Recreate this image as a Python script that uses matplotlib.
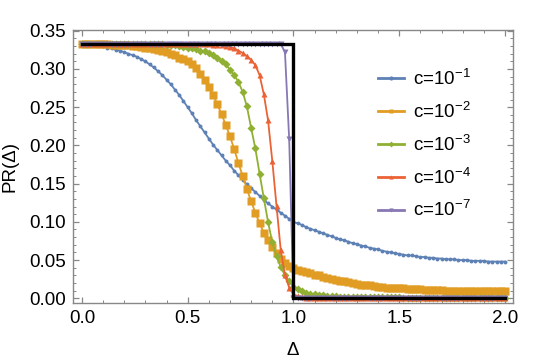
import numpy as np
import matplotlib
matplotlib.use("Agg")
import matplotlib.pyplot as plt
from matplotlib.ticker import MultipleLocator, FormatStrFormatter

plt.rcParams['font.family'] = ['Liberation Sans', 'DejaVu Sans']
plt.rcParams['mathtext.fontset'] = 'custom'
plt.rcParams['mathtext.rm'] = 'Liberation Sans'
plt.rcParams['mathtext.it'] = 'Liberation Sans:italic'

delta = np.linspace(0.0, 2.0, 101)

pr_c1 = [
    .333, .333, .333, .332, .331, .330, .328, .327, .325, .324,
    .322, .320, .318, .316, .313, .310, .306, .302, .297, .292,
    .286, .280, .273, .266, .258, .250, .242, .233, .225, .217,
    .209, .201, .194, .187, .180, .174, .167, .161, .155, .149,
    .144, .139, .134, .129, .124, .120, .116, .112, .108, .104,
    .100,
    .098, .096, .093, .091, .089, .087, .085, .083, .081, .079,
    .077, .076, .074, .072, .071, .069, .068, .066, .065, .064,
    .062, .061, .060, .059, .058, .057, .056, .056, .055, .054,
    .054, .053, .053, .052, .052, .051, .051, .051, .050, .050,
    .050, .049, .049, .049, .049, .048, .048, .048, .048, .048,
]

pr_c2 = [
    .333, .333, .333, .333, .333, .333, .333, .332, .332, .332,
    .331, .331, .330, .330, .329, .328, .327, .326, .325, .324,
    .322, .320, .318, .315, .313, .310, .307, .301, .293, .285,
    .276, .266, .254, .241, .227, .212, .195, .177, .160, .143,
    .127, .112, .098, .086, .076, .067, .059, .052, .046, .042,
    .039,
    .037, .036, .034, .033, .031, .030, .028, .027, .025, .024,
    .023, .022, .021, .020, .019, .018, .017, .017, .016, .015,
    .015, .014, .014, .013, .013, .013, .012, .012, .012, .012,
    .011, .011, .011, .011, .011, .010, .010, .010, .010, .010,
    .010, .010, .009, .009, .009, .009, .009, .009, .009, .009,
]

pr_c3 = [
    .333, .333, .333, .333, .333, .333, .333, .333, .333, .333,
    .333, .333, .333, .333, .333, .333, .333, .333, .333, .333,
    .332, .332, .331, .330, .329, .328, .327, .326, .324, .323,
    .321, .318, .315, .311, .306, .299, .292, .283, .270, .251,
    .223, .196, .163, .131, .100, .073, .055, .041, .030, .022,
    .015,
    .012, .009, .007, .006, .005, .004, .004, .003, .003, .003,
    .002, .002, .002, .002, .002, .002, .002, .002, .002, .002,
    .002, .002, .002, .002, .002, .001, .001, .001, .001, .001,
    .001, .001, .001, .001, .001, .001, .001, .001, .001, .001,
    .001, .001, .001, .001, .001, .001, .001, .001, .001, .001,
]

pr_c4 = [
    .333, .333, .333, .333, .333, .333, .333, .333, .333, .333,
    .333, .333, .333, .333, .333, .333, .333, .333, .333, .333,
    .333, .333, .333, .333, .333, .333, .333, .333, .333, .333,
    .333, .332, .332, .331, .330, .329, .327, .324, .321, .317,
    .312, .305, .292, .267, .233, .180, .121, .063, .030, .014,
    .005,
    .003, .002, .001, .001, .001, .001, .001, .001, .001, .001,
    .001, .001, .001, .001, .001, .001, .001, .001, .001, .001,
    .0005, .0005, .0005, .0005, .0005, .0005, .0005, .0005, .0005, .0005,
    .0005, .0005, .0005, .0005, .0005, .0005, .0005, .0005, .0005, .0005,
    .0005, .0005, .0005, .0005, .0005, .0005, .0005, .0005, .0005, .0005,
]

pr_c7 = [.333] * 48 + [.322, .208, .000] + [.000] * 50

step_x = [0.0, 1.0, 1.0, 2.0]
step_y = [1 / 3, 1 / 3, 0.0, 0.0]

labels = ['c=10$^{-1}$', 'c=10$^{-2}$', 'c=10$^{-3}$', 'c=10$^{-4}$', 'c=10$^{-7}$']
series = [pr_c1, pr_c2, pr_c3, pr_c4, pr_c7]
colors = ['#5E81B5', '#E19C24', '#8FB032', '#EB6235', '#8778B3']
markers = ['o', 's', 'D', '^', 'v']
msizes = [2.8, 5.4, 3.8, 4.8, 4.2]

FS = 13.5

fig = plt.figure(figsize=(5.45, 3.62), dpi=100)
ax = fig.add_axes([73 / 545, 1 - 302.7 / 362, (513 - 73) / 545, (302.7 - 30) / 362])

handles = []
for ys, c, m, ms, lab in zip(series, colors, markers, msizes, labels):
    ax.plot(delta, ys, color=c, lw=1.3, marker=m, ms=ms, mec='none', mfc=c)
    h, = ax.plot([], [], color=c, lw=2.0, marker=m, ms=3.0, mec='none', label=lab)
    handles.append(h)

ax.plot(step_x, step_y, color='black', lw=2.4, zorder=10, solid_joinstyle='miter')

ax.set_xlim(-0.042, 2.038)
ax.set_ylim(-0.0058, 0.351)
ax.xaxis.set_major_locator(MultipleLocator(0.5))
ax.xaxis.set_minor_locator(MultipleLocator(0.1))
ax.yaxis.set_major_locator(MultipleLocator(0.05))
ax.yaxis.set_minor_locator(MultipleLocator(0.01))
ax.xaxis.set_major_formatter(FormatStrFormatter('%.1f'))
ax.yaxis.set_major_formatter(FormatStrFormatter('%.2f'))

for sp in ax.spines.values():
    sp.set_color('#888888')
    sp.set_linewidth(1.0)
ax.tick_params(which='both', direction='in', top=True, right=True, color='#888888',
               labelsize=FS, labelcolor='black')
ax.tick_params(which='major', length=4.0, width=0.9, pad=5)
ax.tick_params(which='minor', length=2.2, width=0.7)

ax.set_xlabel('Δ', fontsize=FS, labelpad=11)
ax.set_ylabel('PR(Δ)', fontsize=FS, labelpad=8)

leg = ax.legend(handles=handles, loc='upper left', bbox_to_anchor=(0.676, 0.885),
                frameon=False, fontsize=FS, handlelength=1.4, handletextpad=0.45,
                labelspacing=0.68, borderaxespad=0)

fig.savefig('out.png', dpi=100)
